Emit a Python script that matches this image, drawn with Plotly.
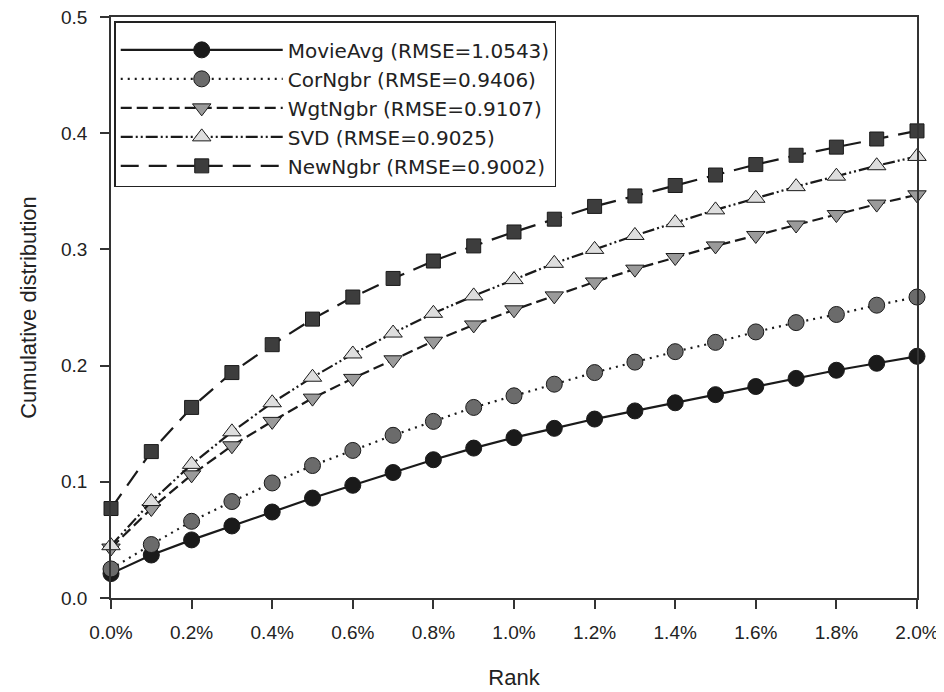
import plotly.graph_objects as go

rank_pct = [0.0, 0.1, 0.2, 0.3, 0.4, 0.5, 0.6, 0.7, 0.8, 0.9, 1.0,
            1.1, 1.2, 1.3, 1.4, 1.5, 1.6, 1.7, 1.8, 1.9, 2.0]
rank_tickvals = [0.0, 0.2, 0.4, 0.6, 0.8, 1.0, 1.2, 1.4, 1.6, 1.8, 2.0]
rank_ticktext = ["0.0%", "0.2%", "0.4%", "0.6%", "0.8%", "1.0%",
                 "1.2%", "1.4%", "1.6%", "1.8%", "2.0%"]

movie_avg = [0.021, 0.037, 0.050, 0.062, 0.074, 0.086, 0.097, 0.108, 0.119, 0.129, 0.138,
             0.146, 0.154, 0.161, 0.168, 0.175, 0.182, 0.189, 0.196, 0.202, 0.208]
cor_ngbr = [0.025, 0.046, 0.066, 0.083, 0.099, 0.114, 0.127, 0.140, 0.152, 0.164, 0.174,
            0.184, 0.194, 0.203, 0.212, 0.220, 0.229, 0.237, 0.244, 0.252, 0.259]
wgt_ngbr = [0.043, 0.077, 0.106, 0.131, 0.152, 0.172, 0.189, 0.205, 0.221, 0.235, 0.248,
            0.260, 0.272, 0.283, 0.293, 0.303, 0.312, 0.321, 0.330, 0.339, 0.347]
svd = [0.045, 0.083, 0.115, 0.143, 0.168, 0.190, 0.210, 0.228, 0.245, 0.260, 0.274,
       0.288, 0.300, 0.312, 0.323, 0.334, 0.344, 0.354, 0.363, 0.372, 0.380]
new_ngbr = [0.077, 0.126, 0.164, 0.194, 0.218, 0.240, 0.259, 0.275, 0.290, 0.303, 0.315,
            0.326, 0.337, 0.346, 0.355, 0.364, 0.373, 0.381, 0.388, 0.395, 0.402]

series_names = ["MovieAvg (RMSE=1.0543)", "CorNgbr (RMSE=0.9406)", "WgtNgbr (RMSE=0.9107)",
                "SVD (RMSE=0.9025)", "NewNgbr (RMSE=0.9002)"]
series_values = [movie_avg, cor_ngbr, wgt_ngbr, svd, new_ngbr]

styles = [
    dict(symbol="circle", fill="#1a1a1a", size=16, dash="solid"),
    dict(symbol="circle", fill="#6b6b6b", size=16, dash="2px,5px"),
    dict(symbol="triangle-down", fill="#9a9a9a", size=16, dash="11px,5px"),
    dict(symbol="triangle-up", fill="#dedede", size=16, dash="12px,3px,2px,3px,2px,3px"),
    dict(symbol="square", fill="#3d3d3d", size=14, dash="18px,10px"),
]

font_family = "Liberation Sans, Arial, Helvetica, sans-serif"

fig = go.Figure()
for i, (name, vals, st) in enumerate(zip(series_names, series_values, styles)):
    fig.add_trace(go.Scatter(
        x=rank_pct, y=vals, name=name, mode="lines+markers",
        legendgroup=f"g{i}",
        line=dict(color="#1a1a1a", width=2.2, dash=st["dash"]),
        marker=dict(symbol=st["symbol"], size=st["size"], color=st["fill"],
                    line=dict(color="#1a1a1a", width=1)),
        cliponaxis=False,
    ))

axis_common = dict(
    showline=True, linecolor="#333333", linewidth=1.5, mirror=True,
    ticks="outside", ticklen=9, tickwidth=1.5, tickcolor="#333333",
    showgrid=False, zeroline=False, automargin=False,
    ticklabeloverflow="allow",
    tickfont=dict(family=font_family, size=19, color="#222222"),
)

fig.update_layout(
    width=936, height=684,
    paper_bgcolor="white", plot_bgcolor="white",
    margin=dict(l=103, r=27, t=9, b=93.5),
    font=dict(family=font_family, color="#222222"),
    xaxis=dict(range=[0, 2.0], tickvals=rank_tickvals, ticktext=rank_ticktext,
               ticklabelstandoff=7,
               title=dict(text="Rank", font=dict(size=22, family=font_family), standoff=28),
               **axis_common),
    yaxis=dict(range=[0, 0.5], dtick=0.1, tickformat=".1f",
               ticklabelstandoff=9,
               title=dict(text="Cumulative distribution", font=dict(size=22, family=font_family), standoff=18),
               **axis_common),
    legend=dict(
        x=0.004, y=0.993, xanchor="left", yanchor="top",
        bgcolor="white", bordercolor="#222222", borderwidth=1.5,
        font=dict(family="DejaVu Sans, sans-serif", size=20, color="#222222"),
        title=dict(text=" ", font=dict(size=6)),
        itemwidth=162, tracegroupgap=9,
        traceorder="normal",
    ),
    showlegend=True,
)

fig.write_html("out.html")
